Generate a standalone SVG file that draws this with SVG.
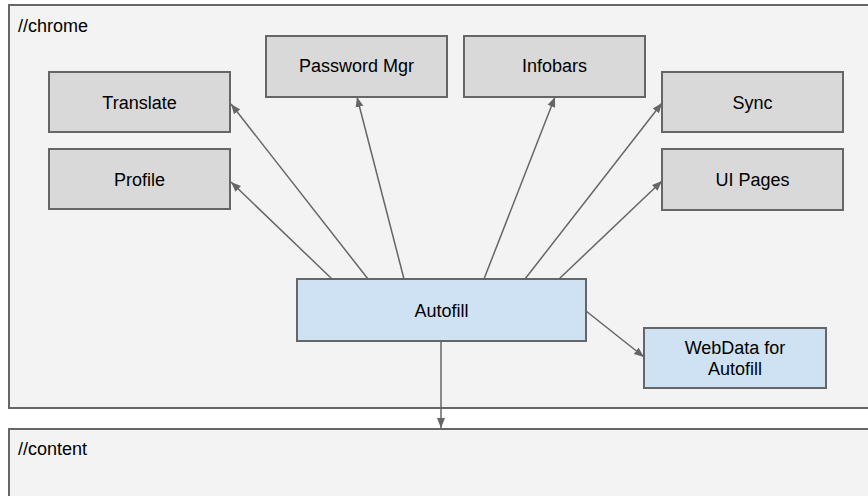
<svg xmlns="http://www.w3.org/2000/svg" width="868" height="496" viewBox="0 0 868 496">
<style>
.frame{fill:#f3f3f3;stroke:#666;stroke-width:2}
.node{fill:#d9d9d9;stroke:#666;stroke-width:2}
.blue{fill:#cfe2f3;stroke:#666;stroke-width:2}
text{font-family:"Liberation Sans",Arial,sans-serif;font-size:18px;fill:#000}
.c{text-anchor:middle}
.conn line{stroke:#666;stroke-width:1.5;marker-end:url(#ah)}
</style>
<defs>
<marker id="ah" viewBox="0 0 10 10" refX="10" refY="5" markerWidth="10" markerHeight="10" markerUnits="userSpaceOnUse" orient="auto">
<path d="M0,1 L10,5 L0,9 Z" fill="#666"/>
</marker>
</defs>
<rect width="868" height="496" fill="#ffffff"/>
<g id="chrome">
<rect class="frame" x="9" y="5" width="870" height="403"/>
<text x="18" y="32">//chrome</text>
</g>
<g id="content">
<rect class="frame" x="9" y="429" width="870" height="80"/>
<text x="18" y="455">//content</text>
</g>
<g id="translate"><rect class="node" x="49" y="72" width="181" height="60"/><text class="c" x="139.5" y="109">Translate</text></g>
<g id="profile"><rect class="node" x="49" y="149" width="181" height="60"/><text class="c" x="139.5" y="186">Profile</text></g>
<g id="password"><rect class="node" x="266" y="36" width="181" height="61"/><text class="c" x="356.5" y="72">Password Mgr</text></g>
<g id="infobars"><rect class="node" x="464" y="36" width="181" height="61"/><text class="c" x="554.5" y="72">Infobars</text></g>
<g id="sync"><rect class="node" x="662" y="72" width="181" height="60"/><text class="c" x="752.5" y="109">Sync</text></g>
<g id="uipages"><rect class="node" x="662" y="149" width="181" height="61"/><text class="c" x="752.5" y="186">UI Pages</text></g>
<g id="autofill"><rect class="blue" x="297" y="279" width="289" height="62"/><text class="c" x="441.5" y="317">Autofill</text></g>
<g id="webdata"><rect class="blue" x="644" y="328" width="182" height="60"/><text class="c" x="735" y="354">WebData for</text><text class="c" x="735" y="375">Autofill</text></g>
<g class="conn" id="connectors">
<line x1="332" y1="279" x2="231" y2="182"/>
<line x1="368" y1="279" x2="231" y2="104"/>
<line x1="404" y1="279" x2="357" y2="97"/>
<line x1="484" y1="279" x2="555" y2="97"/>
<line x1="525" y1="279" x2="662" y2="103"/>
<line x1="559" y1="279" x2="662" y2="181"/>
<line x1="586" y1="311" x2="644" y2="357"/>
<line x1="441" y1="341" x2="441" y2="428"/>
</g>
</svg>
